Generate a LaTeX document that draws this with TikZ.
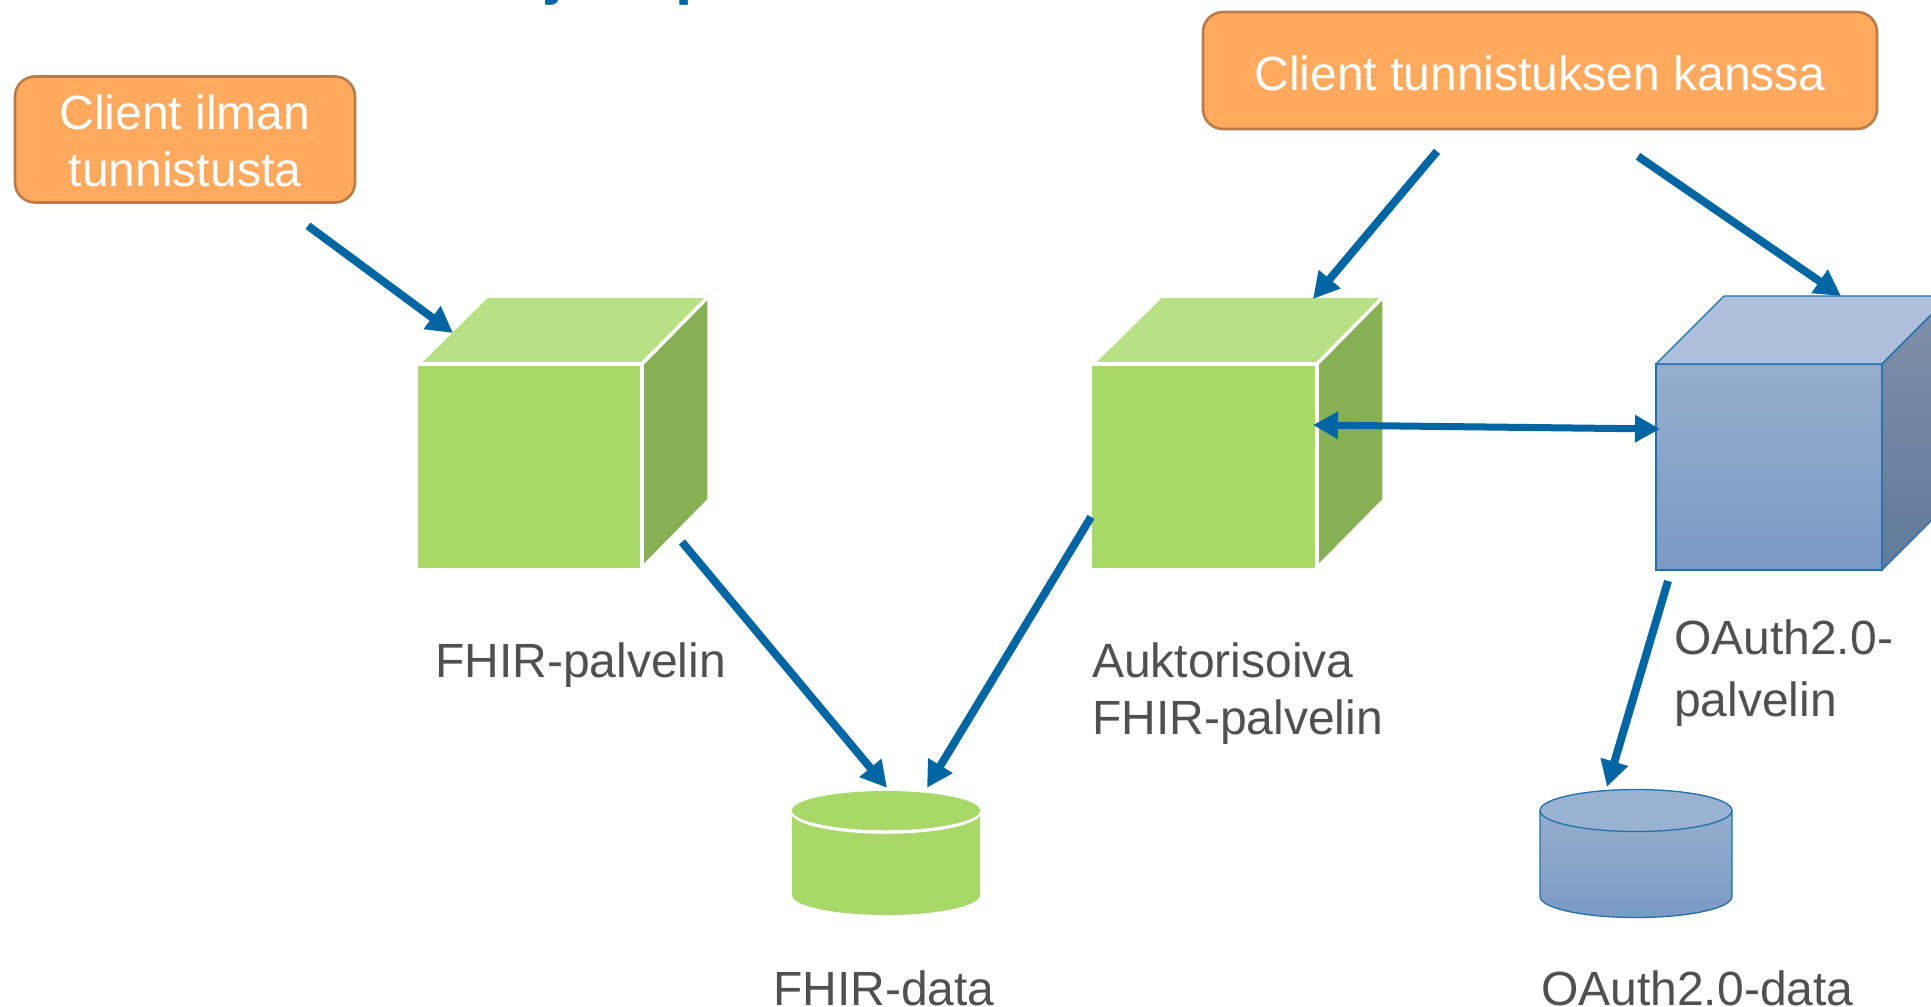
\documentclass[tikz,border=0pt]{standalone}
\usepackage{fontspec}
\setmainfont{Liberation Sans}
\usetikzlibrary{arrows.meta,calc}
\definecolor{arrowblue}{HTML}{0066A3}
\definecolor{orangefill}{HTML}{FFA95F}
\definecolor{orangeline}{HTML}{B97B4A}
\definecolor{greenfront}{HTML}{A8D868}
\definecolor{greentop}{HTML}{B8E186}
\definecolor{greenside}{HTML}{87AF54}
\definecolor{labelgrey}{HTML}{505050}
\definecolor{bluetopA}{HTML}{96AECE}
\definecolor{bluebotA}{HTML}{7A9AC4}
\definecolor{bluetopface}{HTML}{AEC0DB}
\definecolor{sidetop}{HTML}{808FAA}
\definecolor{sidebot}{HTML}{62799B}
\definecolor{blueline}{HTML}{1F70AE}
\tikzset{
  x=1pt,y=-1pt,
  clientbox/.style={draw=orangeline,line width=2.6pt,fill=orangefill,rounded corners=20pt,text=white,font=\fontsize{48}{57}\selectfont,align=center,inner sep=0pt},
  greenface/.style={draw=white,line width=3.5pt,line join=miter},
  blueface/.style={draw=blueline,line width=1.3pt,line join=round},
  frontgreen/.style={fill=greenfront,draw=none,inner sep=0pt,outer sep=0pt},
  frontblue/.style={top color=bluetopA,bottom color=bluebotA,draw=blueline,line width=1.3pt,inner sep=0pt,outer sep=0pt},
  lbl/.style={text=labelgrey,font=\fontsize{48}{57}\selectfont,align=left,inner sep=0pt},
  conn/.style={draw=arrowblue,line width=8pt,-{Triangle[length=26pt,width=27pt]}},
  connboth/.style={draw=arrowblue,line width=7pt,{Triangle[length=25pt,width=26pt]}-{Triangle[length=25pt,width=26pt]}},
  titlefrag/.style={text=arrowblue,font=\fontsize{62}{70}\bfseries\selectfont,inner sep=0pt,anchor=base}
}
\begin{document}
\begin{tikzpicture}
\useasboundingbox (0,0) rectangle (1931,1007);
\clip (0,0) rectangle (1931,1007);
\fill[white] (0,0) rectangle (1931,1007);
% clipped title
\node[titlefrag] (tj) at (555,-8) {j};
\node[titlefrag] (tp) at (694,-8) {p};
% clients
\node[clientbox,minimum width=340pt,minimum height=126pt] (c1) at (185,139.5) {\raisebox{3pt}{\vphantom{Cl}}Client ilman\\tunnistusta};
\node[clientbox,minimum width=674pt,minimum height=117pt] (c2) at (1540,70.5) {\raisebox{5pt}{\vphantom{Cl}}Client tunnistuksen kanssa};
% green cube 1
\node[frontgreen,minimum width=224pt,minimum height=204pt] (g1) at (530,466) {};
\draw[greenface,fill=greentop] (g1.north west) -- ++(69,-68) -- ++(223,0) -- (g1.north east) -- cycle;
\draw[greenface,fill=greenside] (g1.north east) -- ++(67,-68) -- ++(0,204) -- (g1.south east) -- cycle;
\draw[white,line width=3.5pt] (g1.north west) -- (g1.north east) -- (g1.south east);
% green cube 2
\node[frontgreen,minimum width=225pt,minimum height=204pt] (g2) at (1204.5,466) {};
\draw[greenface,fill=greentop] (g2.north west) -- ++(69,-68) -- ++(224,0) -- (g2.north east) -- cycle;
\draw[greenface,fill=greenside] (g2.north east) -- ++(67,-68) -- ++(0,204) -- (g2.south east) -- cycle;
\draw[white,line width=3.5pt] (g2.north west) -- (g2.north east) -- (g2.south east);
% blue cube
\node[frontblue,minimum width=226pt,minimum height=206pt] (b1) at (1769,467) {};
\draw[blueface,fill=bluetopface] (b1.north west) -- ++(68,-68) -- ++(226,0) -- (b1.north east) -- cycle;
\draw[blueface,top color=sidetop,bottom color=sidebot] (b1.north east) -- ++(68,-68) -- ++(0,206) -- (b1.south east) -- cycle;
% green cylinder
\node[inner sep=0pt,minimum width=188pt,minimum height=125pt] (d1) at (886,852.5) {};
\fill[greenfront] (792,810) -- (792,895) arc[start angle=180,end angle=360,x radius=94pt,y radius=20pt] -- (980,810) -- cycle;
\draw[white,line width=3.5pt] (792,811) arc[start angle=180,end angle=360,x radius=94pt,y radius=21pt];
\fill[greenfront] (886,810.5) ellipse[x radius=94pt,y radius=19.5pt];
% blue cylinder
\node[inner sep=0pt,minimum width=192pt,minimum height=128pt] (d2) at (1636,852) {};
\draw[blueface,top color=bluetopA,bottom color=bluebotA] (1540,810.5) -- (1540,896.5) arc[start angle=180,end angle=360,x radius=96pt,y radius=21pt] -- (1732,810.5) -- cycle;
\draw[blueface,fill=bluetopA!96!white] (1636,810.5) ellipse[x radius=96pt,y radius=21pt];
% labels
\node[lbl,anchor=base west] (l1) at (435,677) {FHIR-palvelin};
\node[lbl,anchor=base west] (l2a) at (1092,677) {Auktorisoiva};
\node[lbl,anchor=base west] (l2b) at (1092,734) {FHIR-palvelin};
\node[lbl,anchor=base west] (l3a) at (1674,654) {OAuth2.0-};
\node[lbl,anchor=base west] (l3b) at (1674,716) {palvelin};
\node[lbl,anchor=base west] (l4) at (773,1005) {FHIR-data};
\node[lbl,anchor=base west] (l5) at (1541,1005) {OAuth2.0-data};
% connectors
\draw[conn] ($(c1.south)+(123,22)$) -- ($(g1.north west)+(35,-31)$);
\draw[conn] ($(c2.south)+(-103,21)$) -- ($(g2.north east)+(-4,-65)$);
\draw[conn] ($(c2.south)+(98,26)$) -- ($(b1.north west)+(185,-68)$);
\draw[connboth] ($(g2.north east)+(-4,61)$) -- ($(b1.north west)+(4,65)$);
\draw[conn] ($(g1.south east)+(40,-26)$) -- ($(d1.north)+(1,-2)$);
\draw[conn] ($(g2.south west)+(-1,-51)$) -- ($(d1.north)+(41,-2)$);
\draw[conn] ($(b1.south west)+(12,11)$) -- ($(d2.north)+(-29,-1)$);
\end{tikzpicture}
\end{document}
